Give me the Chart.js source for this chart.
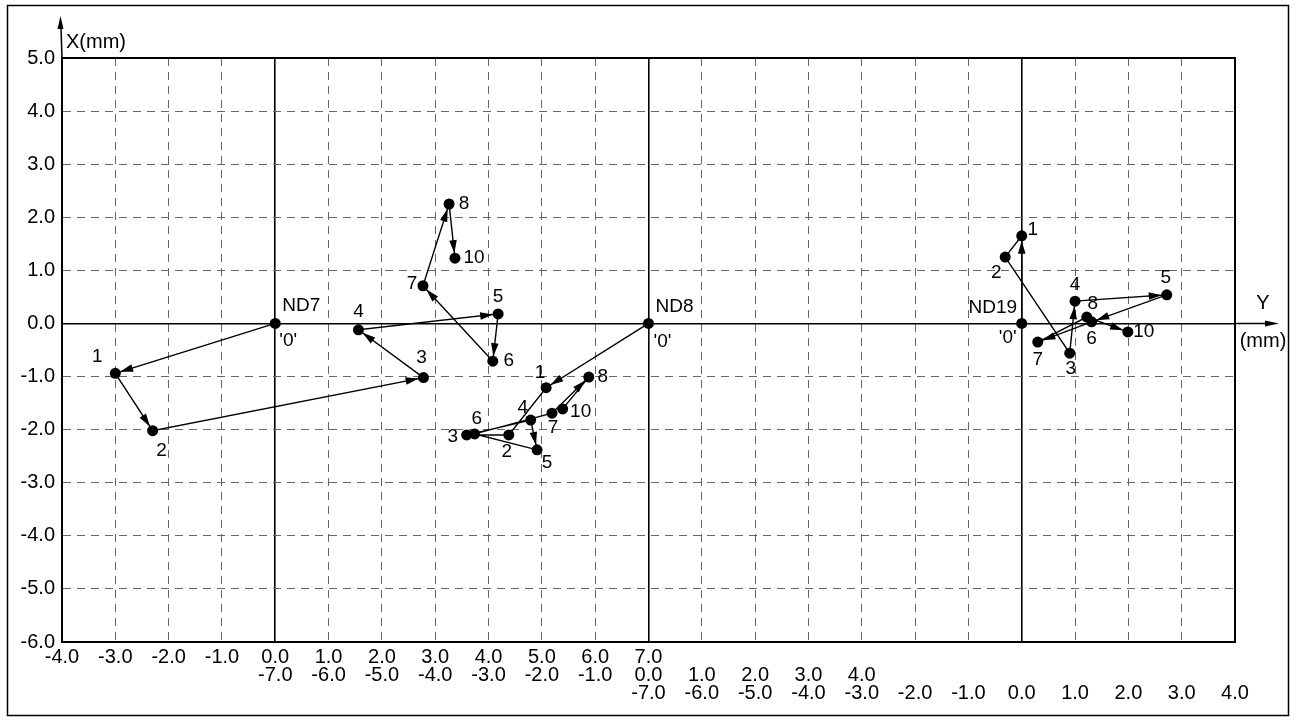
<!DOCTYPE html>
<html>
<head>
<meta charset="utf-8">
<script src="https://cdn.jsdelivr.net/npm/chart.js@4/dist/chart.umd.min.js"></script>
<style>
  html, body { margin: 0; padding: 0; background: #fff; }
  #wrap { width: 1300px; height: 721px; position: relative; }
  canvas { display: block; }
</style>
</head>
<body>
<div id="wrap"><canvas id="c" width="1300" height="721"></canvas></div>
<script>
// Measured displacement paths (mm), each relative to its own station origin.
const pointNames = ['', '1', '2', '3', '4', '5', '6', '7', '8', '10'];

const nd7X  = [0, -3.00, -2.30, 2.78, 1.56, 4.18, 4.08, 2.77, 3.26, 3.37];
const nd7Y  = [0, -0.94, -2.02, -1.02, -0.12, 0.18, -0.71, 0.71, 2.25, 1.23];

const nd8X  = [0, -1.92, -2.62, -3.41, -2.21, -2.09, -3.26, -1.81, -1.12, -1.61];
const nd8Y  = [0, -1.21, -2.10, -2.10, -1.82, -2.38, -2.08, -1.69, -1.01, -1.61];

const nd19X = [0, 0.00, -0.31, 0.90, 1.00, 2.72, 1.31, 0.30, 1.22, 1.99];
const nd19Y = [0, 1.65, 1.25, -0.56, 0.42, 0.54, 0.03, -0.35, 0.12, -0.16];

const groupNames   = ['ND7', 'ND8', 'ND19'];
const groupOrigins = [0, 7, 14];

// Y(mm) tick labels for each station's own origin (one row per station)
const ticksND7  = ['-4.0', '-3.0', '-2.0', '-1.0', '0.0', '1.0', '2.0', '3.0', '4.0', '5.0', '6.0', '7.0'];
const ticksND8  = ['-7.0', '-6.0', '-5.0', '-4.0', '-3.0', '-2.0', '-1.0', '0.0', '1.0', '2.0', '3.0', '4.0'];
const ticksND19 = ['-7.0', '-6.0', '-5.0', '-4.0', '-3.0', '-2.0', '-1.0', '0.0', '1.0', '2.0', '3.0', '4.0'];
const ticksX    = ['5.0', '4.0', '3.0', '2.0', '1.0', '0.0', '-1.0', '-2.0', '-3.0', '-4.0', '-5.0', '-6.0'];

// Label placement (pixel offsets from each point) and which segments carry arrowheads
const labelOffsets = [
  [[26, -18], [-18, -17], [9, 20], [-2, -20], [0, -18], [0, -17], [16, 0], [-11, -2], [15, 0], [19, 0]],
  [[26, -17], [-6, -15], [-2, 17], [-14, 2], [-8, -12], [10, 13], [2, -15], [1, 15], [14, 0], [18, 3]],
  [[-29, -16], [11, -6], [-9, 16], [1, 16], [0, -16], [-1, -17], [0, 17], [0, 18], [6, -13], [16, 0]]
];
const zeroOffsets = [[13, 17], [14, 18], [-14, 14]];
const arrowFlags = [
  [1, 1, 1, 1, 1, 1, 1, 1, 1],
  [1, 0, 0, 0, 1, 0, 0, 1, 0],
  [1, 0, 0, 1, 1, 1, 1, 0, 1]
];

const seriesX = [nd7X, nd8X, nd19X];
const seriesY = [nd7Y, nd8Y, nd19Y];
const tickRows = [ticksND7, ticksND8, ticksND19];

const FONT = '"Liberation Sans", Arial, Helvetica, sans-serif';

function isOriginX(v) { return groupOrigins.includes(v); }

function xTickLines(v) {
  return tickRows.map((row, r) => {
    const local = v - groupOrigins[r];
    const hit = row.find(s => parseFloat(s) === local);
    return hit === undefined ? '' : hit;
  });
}

const datasets = groupNames.map((name, g) => ({
  label: name,
  data: seriesX[g].map((lx, i) => ({ x: groupOrigins[g] + lx, y: seriesY[g][i] })),
  showLine: true,
  borderColor: '#000',
  borderWidth: 1.4,
  backgroundColor: '#000',
  pointBackgroundColor: '#000',
  pointBorderColor: '#000',
  pointRadius: 5.5,
  pointBorderWidth: 0,
  tension: 0
}));

function arrowHead(ctx, tx, ty, ang, len, half) {
  ctx.beginPath();
  ctx.moveTo(tx, ty);
  ctx.lineTo(tx - len * Math.cos(ang) + half * Math.sin(ang), ty - len * Math.sin(ang) - half * Math.cos(ang));
  ctx.lineTo(tx - len * Math.cos(ang) - half * Math.sin(ang), ty - len * Math.sin(ang) + half * Math.cos(ang));
  ctx.closePath();
  ctx.fill();
}

const decor = {
  id: 'decor',
  beforeDraw(chart) {
    const { ctx, width, height } = chart;
    ctx.save();
    ctx.fillStyle = '#fff';
    ctx.fillRect(0, 0, width, height);
    ctx.restore();
  },
  afterDatasetsDraw(chart) {
    const { ctx, chartArea: a, scales } = chart;
    const y0 = scales.y.getPixelForValue(0);
    ctx.save();
    ctx.strokeStyle = '#000';
    ctx.fillStyle = '#000';

    // top and right frame of the plot
    ctx.lineWidth = 2;
    ctx.beginPath();
    ctx.moveTo(a.left, a.top);
    ctx.lineTo(a.right, a.top);
    ctx.lineTo(a.right, a.bottom);
    ctx.stroke();

    // X(mm) axis arrow going up from the left edge
    ctx.lineWidth = 1.5;
    ctx.beginPath();
    ctx.moveTo(a.left, a.top);
    ctx.lineTo(a.left - 1, 28);
    ctx.stroke();
    arrowHead(ctx, a.left - 1.5, 16, -Math.PI / 2, 13, 3);

    // Y(mm) axis arrow running out to the right along the zero line
    ctx.lineWidth = 1.5;
    ctx.beginPath();
    ctx.moveTo(a.right, y0);
    ctx.lineTo(1268, y0);
    ctx.stroke();
    arrowHead(ctx, 1279, y0, 0, 14, 3);

    // axis titles
    ctx.font = '20px ' + FONT;
    ctx.textBaseline = 'middle';
    ctx.textAlign = 'left';
    ctx.fillText('X(mm)', 66, 42);
    ctx.textAlign = 'center';
    ctx.fillText('Y', 1263, 303);
    ctx.fillText('(mm)', 1263, 341);

    // arrowheads along each path
    groupNames.forEach((name, g) => {
      const pts = chart.getDatasetMeta(g).data;
      for (let i = 1; i < pts.length; i++) {
        if (!arrowFlags[g][i - 1]) continue;
        const p0 = pts[i - 1], p1 = pts[i];
        const ang = Math.atan2(p1.y - p0.y, p1.x - p0.x);
        const r = 5;
        arrowHead(ctx, p1.x - r * Math.cos(ang), p1.y - r * Math.sin(ang), ang, 13, 3.8);
      }
    });

    // point numbers, station names and '0' markers
    ctx.font = '19px ' + FONT;
    ctx.textAlign = 'center';
    ctx.textBaseline = 'middle';
    groupNames.forEach((name, g) => {
      const pts = chart.getDatasetMeta(g).data;
      pts.forEach((p, i) => {
        const [dx, dy] = labelOffsets[g][i];
        const text = i === 0 ? name : pointNames[i];
        ctx.fillText(text, p.x + dx, p.y + dy);
      });
      const [zx, zy] = zeroOffsets[g];
      ctx.fillText("'0'", pts[0].x + zx, pts[0].y + zy);
    });

    // outer frame of the sheet
    ctx.lineWidth = 1.5;
    ctx.strokeRect(7.5, 5.5, 1281, 710);
    ctx.restore();
  }
};

new Chart(document.getElementById('c'), {
  type: 'scatter',
  data: { datasets },
  options: {
    responsive: false,
    animation: false,
    devicePixelRatio: 1,
    layout: { padding: { left: 0, top: 58, right: 65, bottom: 0 } },
    plugins: { legend: { display: false }, tooltip: { enabled: false } },
    scales: {
      x: {
        type: 'linear',
        min: -4,
        max: 18,
        afterFit(s) { s.height = 79; },
        ticks: {
          stepSize: 1,
          autoSkip: false,
          maxRotation: 0,
          padding: 6,
          color: '#000',
          font: { family: FONT, size: 20, lineHeight: '18px' },
          callback: (v) => xTickLines(v)
        },
        grid: {
          drawTicks: false,
          color: (c) => (c.tick && isOriginX(c.tick.value)) ? '#000' : '#666',
          lineWidth: (c) => (c.tick && isOriginX(c.tick.value)) ? 1.6 : 1
        },
        border: {
          display: true,
          color: '#000',
          width: 2,
          dash: (c) => (c.tick && isOriginX(c.tick.value)) ? [] : [8, 6]
        }
      },
      y: {
        type: 'linear',
        min: -6,
        max: 5,
        afterFit(s) { s.width = 62; },
        ticks: {
          stepSize: 1,
          padding: 7,
          color: '#000',
          font: { family: FONT, size: 20 },
          callback: (v) => ticksX.find(s => parseFloat(s) === v) || ''
        },
        grid: {
          drawTicks: false,
          color: (c) => (c.tick && c.tick.value === 0) ? '#000' : '#666',
          lineWidth: (c) => (c.tick && c.tick.value === 0) ? 1.6 : 1
        },
        border: {
          display: true,
          color: '#000',
          width: 2,
          dash: (c) => (c.tick && c.tick.value === 0) ? [] : [8, 6]
        }
      }
    }
  },
  plugins: [decor]
});
</script>
</body>
</html>
